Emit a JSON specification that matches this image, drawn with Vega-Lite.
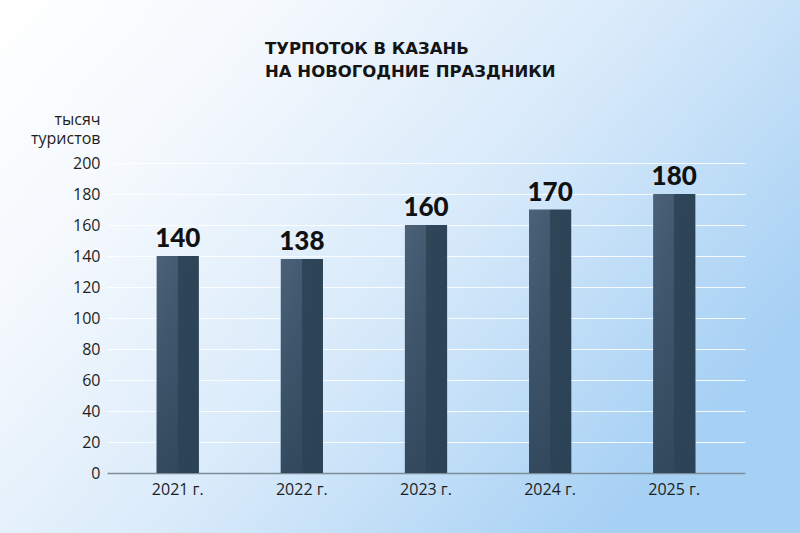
{
  "$schema": "https://vega.github.io/schema/vega-lite/v6.json",
  "width": 800,
  "height": 533,
  "autosize": {"type": "none"},
  "padding": 0,
  "background": "#ffffff",
  "title": {
    "text": ["ТУРПОТОК В КАЗАНЬ", "НА НОВОГОДНИЕ ПРАЗДНИКИ"],
    "anchor": "start",
    "frame": "group",
    "orient": "top",
    "offset": 0,
    "dx": 265,
    "dy": 80,
    "baseline": "top",
    "font": "DejaVu Sans",
    "fontSize": 16.5,
    "fontWeight": "bold",
    "color": "#141414",
    "lineHeight": 23,
    "limit": 0
  },
  "config": {
    "view": {
      "stroke": null,
      "fill": {
        "gradient": "linear",
        "x1": 0, "y1": 0, "x2": 1, "y2": 0.6,
        "stops": [
          {"offset": 0, "color": "#ffffff"},
          {"offset": 0.25, "color": "#f5f9fd"},
          {"offset": 0.6, "color": "#d8eafa"},
          {"offset": 1, "color": "#a6d0f4"}
        ]
      }
    },
    "axis": {
      "labelFont": "Open Sans",
      "labelFontSize": 16,
      "labelColor": "#1e1e1e",
      "titleFont": "Open Sans",
      "titleColor": "#1e1e1e"
    }
  },
  "data": {
    "values": [
      {"year": "2021 г.", "tourists": 140},
      {"year": "2022 г.", "tourists": 138},
      {"year": "2023 г.", "tourists": 160},
      {"year": "2024 г.", "tourists": 170},
      {"year": "2025 г.", "tourists": 180}
    ]
  },
  "encoding": {
    "x": {
      "field": "year",
      "type": "ordinal",
      "sort": null,
      "scale": {"range": [107, 745], "paddingInner": 0.66, "paddingOuter": 0.4},
      "axis": {
        "title": null,
        "labelAngle": 0,
        "offset": -60,
        "ticks": false,
        "labelPadding": 8,
        "domainColor": "#7d8c99",
        "domainWidth": 1.5,
        "grid": false
      }
    },
    "y": {
      "field": "tourists",
      "type": "quantitative",
      "scale": {"domain": [0, 200], "range": [473, 163], "nice": false},
      "axis": {
        "values": [0, 20, 40, 60, 80, 100, 120, 140, 160, 180, 200],
        "offset": -107,
        "domain": false,
        "ticks": false,
        "labelPadding": 7,
        "grid": true,
        "gridColor": "#ffffff",
        "gridOpacity": 0.85,
        "gridWidth": 1,
        "title": ["тысяч", "туристов"],
        "titleAngle": 0,
        "titleAlign": "right",
        "titleBaseline": "alphabetic",
        "titleFontWeight": "normal",
        "titleFontSize": 16,
        "titleLineHeight": 19,
        "titleX": -7,
        "titleY": 124
      }
    }
  },
  "layer": [
    {
      "mark": {
        "type": "bar",
        "color": {
          "gradient": "linear",
          "x1": 0, "y1": 0, "x2": 1, "y2": 0,
          "stops": [
            {"offset": 0, "color": "#4a6178"},
            {"offset": 0.5, "color": "#445b71"},
            {"offset": 0.5, "color": "#2f4558"},
            {"offset": 1, "color": "#2d4356"}
          ]
        }
      }
    },
    {
      "mark": {
        "type": "bar",
        "color": {
          "gradient": "linear",
          "x1": 0, "y1": 0, "x2": 0, "y2": 1,
          "stops": [
            {"offset": 0, "color": "rgba(44,66,86,0)"},
            {"offset": 1, "color": "rgba(44,66,86,0.75)"}
          ]
        }
      }
    },
    {
      "mark": {
        "type": "text",
        "baseline": "alphabetic",
        "dy": -9,
        "font": "Lato",
        "fontSize": 26,
        "fontWeight": 900,
        "color": "#111111"
      },
      "encoding": {"text": {"field": "tourists", "type": "quantitative"}}
    }
  ]
}
